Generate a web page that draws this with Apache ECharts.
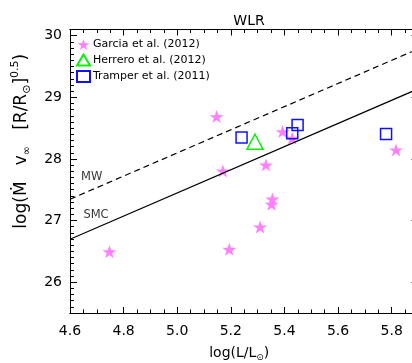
<!DOCTYPE html>
<html><head><meta charset="utf-8">
<script src="https://cdn.jsdelivr.net/npm/echarts@6/dist/echarts.min.js"></script>
<style>html,body{margin:0;padding:0;background:#fff}#c{width:412px;height:363px}</style>
</head><body><div id="c"></div>
<script>
// ---- data ----
const xTicks = [4.6, 4.8, 5.0, 5.2, 5.4, 5.6, 5.8];
const yTicks = [26, 27, 28, 29, 30];
const garciaX = [5.147, 5.393, 5.429, 5.331, 5.170, 5.355, 5.352, 5.309, 5.194, 4.747, 5.816];
const garciaY = [28.687, 28.443, 28.336, 27.903, 27.805, 27.351, 27.265, 26.896, 26.534, 26.495, 28.146];
const tramperX = [5.240, 5.449, 5.429, 5.779];
const tramperY = [28.346, 28.552, 28.417, 28.406];
const herreroX = [5.290];
const herreroY = [28.279];
const mwX = [4.6, 5.9];
const mwY = [27.346, 29.788];
const smcX = [4.6, 5.9];
const smcY = [26.696, 29.14];
const lineLabels = ['MW', 'SMC'];
const lineLabelX = [4.681, 4.697];
const lineLabelY = [27.713, 27.091];

const FONT = 'DejaVu Sans';
const zip = (a, b) => a.map((v, i) => [v, b[i]]);
const STAR = 'path://M50,0 L61.8,35.1 L98.1,35.1 L68.8,56.7 L79.4,90.5 L50,69.1 L20.6,90.5 L31.2,56.7 L1.9,35.1 L38.2,35.1 Z';

const chart = echarts.init(document.getElementById('c'), null, {renderer: 'canvas'});
const gridPos = {left: 70, top: 29.5, width: 348.5, height: 283.5, outerBoundsMode: 'none'};

function majorX(pos, labels) {
  return {
    gridIndex: 0, type: 'value', position: pos, min: 4.6, max: 5.9, interval: 0.1,
    axisLine: {show: true, onZero: false, lineStyle: {color: '#000', width: 1}},
    axisTick: {show: true, inside: true, length: 6, customValues: xTicks, lineStyle: {color: '#000'}},
    axisLabel: {show: labels, customValues: xTicks, formatter: v => v.toFixed(1), margin: 11,
      fontSize: 14, color: '#000', fontFamily: FONT},
    splitLine: {show: false}
  };
}
function majorY(pos, labels) {
  return {
    gridIndex: 0, type: 'value', position: pos, min: 25.5, max: 30.1, interval: 0.5,
    axisLine: {show: true, onZero: false, lineStyle: {color: '#000', width: 1}},
    axisTick: {show: true, inside: true, length: 7, customValues: yTicks, lineStyle: {color: '#000'}},
    axisLabel: {show: labels, customValues: yTicks, formatter: v => String(Math.round(v)), margin: 8,
      fontSize: 14, color: '#000', fontFamily: FONT},
    splitLine: {show: false}
  };
}
function minorX(pos) {
  return {gridIndex: 1, type: 'value', position: pos, min: 4.6, max: 5.9, interval: 0.05,
    axisLine: {show: true, onZero: false, lineStyle: {color: '#000', width: 1}},
    axisTick: {show: true, inside: true, length: 3.5, lineStyle: {color: '#000', width: 1}},
    axisLabel: {show: false}, splitLine: {show: false}};
}
function minorY(pos) {
  return {gridIndex: 1, type: 'value', position: pos, min: 25.5, max: 30.1, interval: 0.1,
    axisLine: {show: true, onZero: false, lineStyle: {color: '#000', width: 1}},
    axisTick: {show: true, inside: true, length: 4, lineStyle: {color: '#000', width: 1}},
    axisLabel: {show: false}, splitLine: {show: false}};
}

const xb = majorX('bottom', true);
xb.name = '{a|log(L/L}{s|⊙}{a|)}';
xb.nameLocation = 'middle';
xb.nameGap = 31;
xb.nameTextStyle = {padding: [0, 10, 0, 0], rich: {
  a: {fontSize: 14, fontFamily: FONT, color: '#000', lineHeight: 18},
  s: {fontSize: 9, fontFamily: FONT, color: '#000', lineHeight: 18, verticalAlign: 'bottom'}
}};
const yl = majorY('left', true);
yl.name = '{a|log(Ṁ   v}{s|∞}{a|   [R/R}{s|⊙}{a|]}{p|0.5}{a|)}';
yl.nameLocation = 'middle';
yl.nameRotate = 90;
yl.nameGap = 37;
yl.nameTextStyle = {padding: [0, 0, 0, 60], rich: {
  a: {fontSize: 17, fontFamily: FONT, color: '#000', lineHeight: 23},
  s: {fontSize: 11, fontFamily: FONT, color: '#000', lineHeight: 23, verticalAlign: 'bottom'},
  p: {fontSize: 11, fontFamily: FONT, color: '#000', lineHeight: 23, verticalAlign: 'top'}
}};

const option = {
  animation: false,
  backgroundColor: '#fff',
  title: {text: 'WLR', left: 244, top: 9, textAlign: 'center',
    textStyle: {fontSize: 14, fontWeight: 'normal', color: '#000', fontFamily: FONT}},
  legend: {
    orient: 'vertical', left: 76, top: 39, padding: 0, itemWidth: 13, itemHeight: 11, itemGap: 3.5,
    textStyle: {fontSize: 11, color: '#000', fontFamily: FONT, padding: [0, 0, 0, -2]},
    data: [
      {name: 'Garcia et al. (2012)', icon: STAR},
      {name: 'Herrero et al. (2012)', icon: 'triangle'},
      {name: 'Tramper et al. (2011)', icon: 'rect'}
    ]
  },
  grid: [Object.assign({}, gridPos), Object.assign({}, gridPos)],
  xAxis: [xb, majorX('top', false), minorX('bottom'), minorX('top')],
  yAxis: [yl, majorY('right', false), minorY('left'), minorY('right')],
  series: [
    {type: 'line', name: 'SMC', xAxisIndex: 0, yAxisIndex: 0, data: zip(smcX, smcY), symbol: 'none',
      lineStyle: {color: '#000', width: 1.2}},
    {type: 'line', name: 'MW', xAxisIndex: 0, yAxisIndex: 0, data: zip(mwX, mwY), symbol: 'none',
      lineStyle: {color: '#000', width: 1.2, type: [6, 4]}},
    {type: 'scatter', name: 'Garcia et al. (2012)', xAxisIndex: 0, yAxisIndex: 0, data: zip(garciaX, garciaY),
      symbol: STAR, symbolSize: [14, 13], itemStyle: {color: '#ff80ff', opacity: 1}},
    {type: 'scatter', name: 'Tramper et al. (2011)', xAxisIndex: 0, yAxisIndex: 0, data: zip(tramperX, tramperY),
      symbol: 'rect', symbolSize: 11, itemStyle: {color: 'rgba(0,0,0,0)', borderColor: '#1010ff', borderWidth: 1.5, opacity: 1}},
    {type: 'scatter', name: 'Herrero et al. (2012)', xAxisIndex: 0, yAxisIndex: 0, data: zip(herreroX, herreroY),
      symbol: 'triangle', symbolSize: [16, 15], itemStyle: {color: 'rgba(0,0,0,0)', borderColor: '#10ee10', borderWidth: 1.5, opacity: 1}},
    {type: 'scatter', name: 'lineLabels', xAxisIndex: 0, yAxisIndex: 0, silent: true,
      data: lineLabels.map((n, i) => ({name: n, value: [lineLabelX[i], lineLabelY[i]]})),
      symbolSize: 1, itemStyle: {color: 'rgba(0,0,0,0)'},
      label: {show: true, position: 'inside', formatter: p => p.name, fontSize: 11.5, color: '#000', fontFamily: FONT}},
    {type: 'scatter', name: 'minor', xAxisIndex: 2, yAxisIndex: 2, data: [[5.5, 28]], symbolSize: 1, silent: true,
      itemStyle: {color: 'rgba(0,0,0,0)'}}
  ]
};
chart.setOption(option);
</script></body></html>
